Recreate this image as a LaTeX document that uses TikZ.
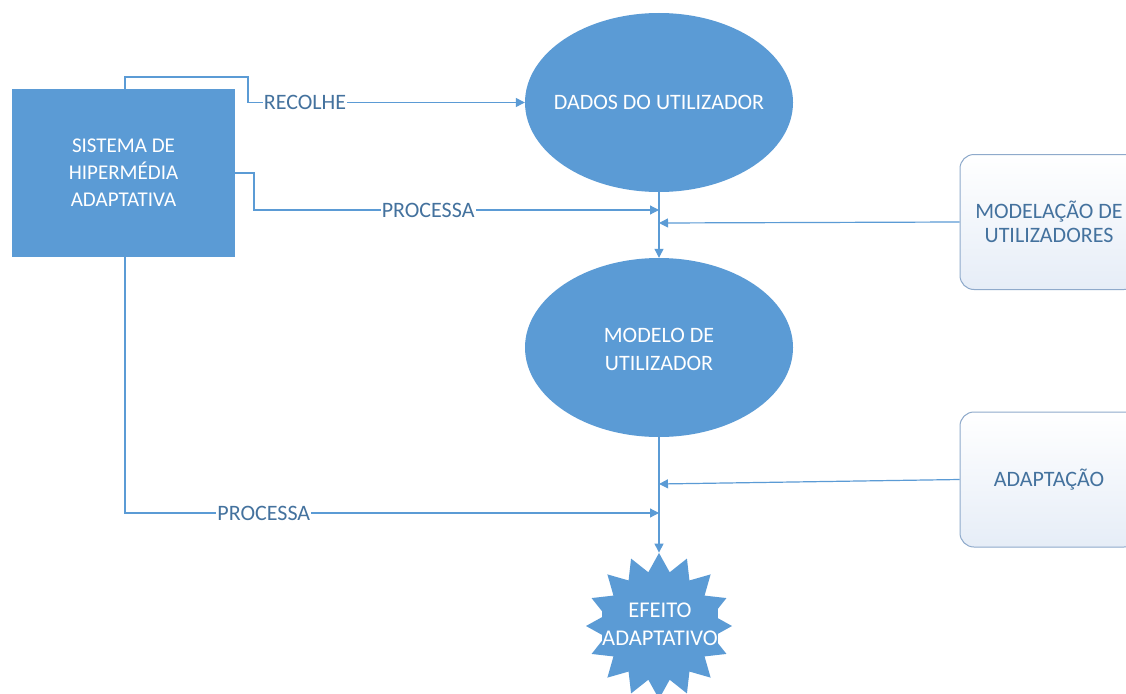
\documentclass[tikz,border=0pt]{standalone}
\usepackage{fontspec}
\setmainfont{Carlito}
\usetikzlibrary{shapes.geometric,arrows.meta}
\definecolor{ob}{HTML}{5B9BD5}
\definecolor{ln}{HTML}{5B9BD5}
\definecolor{lbl}{HTML}{44729E}
\definecolor{bd}{HTML}{8FAACB}
\definecolor{bf}{HTML}{E6EDF7}
\newcommand\dfont{\fontsize{22}{28}\selectfont}
\newcommand\sfontx{\fontsize{21}{27}\selectfont}
\newcommand\bfontx{\fontsize{22}{24}\selectfont}
\newcommand\stfont{\fontsize{22.5}{28}\selectfont}
\begin{document}
\begin{tikzpicture}[x=1pt,y=-1pt,
  blob/.style={fill=ob, draw=none, text=white, font=\dfont, align=center, inner sep=0pt},
  sysbox/.style={blob, rectangle, font=\sfontx, minimum width=223pt, minimum height=168pt},
  oval/.style={blob, ellipse, minimum width=268pt, minimum height=179pt},
  infobox/.style={rectangle, rounded corners=14pt, draw=bd, line width=1pt, top color=white, bottom color=bf, text=lbl, font=\bfontx, align=center, minimum width=178pt, minimum height=135pt, inner sep=0pt},
  burst/.style={blob, star, star points=16, star point ratio=1.333, minimum size=146pt},
  conn/.style={draw=ln, line width=1.2pt},
  arr/.style={conn, -{Triangle[length=9pt,width=9pt]}},
  lab/.style={fill=white, text=lbl, inner sep=1pt, font=\dfont}]
\clip (0,0) rectangle (1126,693);
\fill[white] (0,0) rectangle (1126,693);

% nodes
\node[sysbox] (sys) at (123.5,173) {SISTEMA DE\\HIPERMÉDIA\\ADAPTATIVA};
\node[oval] (dados) at (659,102.5) {};
\node[blob] (dadostxt) at (659,102.5) {DADOS DO UTILIZADOR};
\node[oval] (modelo) at (659,347.5) {};
\node[blob] (modelotxt) at (659,349) {MODELO DE\\UTILIZADOR};
\node[infobox] (modelacao) at (1049,222) {MODELAÇÃO DE\\UTILIZADORES};
\node[infobox] (adapt) at (1049,479.5) {ADAPTAÇÃO};
\node[burst] (efeito) at (659,626) {};
\node[blob, font=\stfont] (efeitotxt) at (660,624) {EFEITO\\ADAPTATIVO};

% junction coordinates on the vertical line
\coordinate (r1) at (125,77);
\coordinate (r2) at (248,77);
\coordinate (p1) at (254,173);
\coordinate (p2) at (254,210);
\coordinate (j1) at (659,210);
\coordinate (j2) at (659,223);
\coordinate (j3) at (659,484);
\coordinate (p3) at (125,513);
\coordinate (j4) at (659,513);

% connectors
\draw[arr] (sys.north -| r1) -- (r1) -- (r2) |- (dados.west) node[lab, pos=0.603] {RECOLHE};
\draw[arr] (sys.east) -- (p1) -- (p2) -- node[lab, pos=0.43] {PROCESSA} (j1);
\draw[arr] (dados.south) -- (modelo.north);
\draw[arr] (modelacao.west) -- (j2);
\draw[arr] (sys.south -| p3) -- (p3) -- node[lab, pos=0.26] {PROCESSA} (j4);
\draw[arr] (adapt.west) -- (j3);
\draw[arr] (modelo.south) -- (efeito.north);
\end{tikzpicture}
\end{document}
